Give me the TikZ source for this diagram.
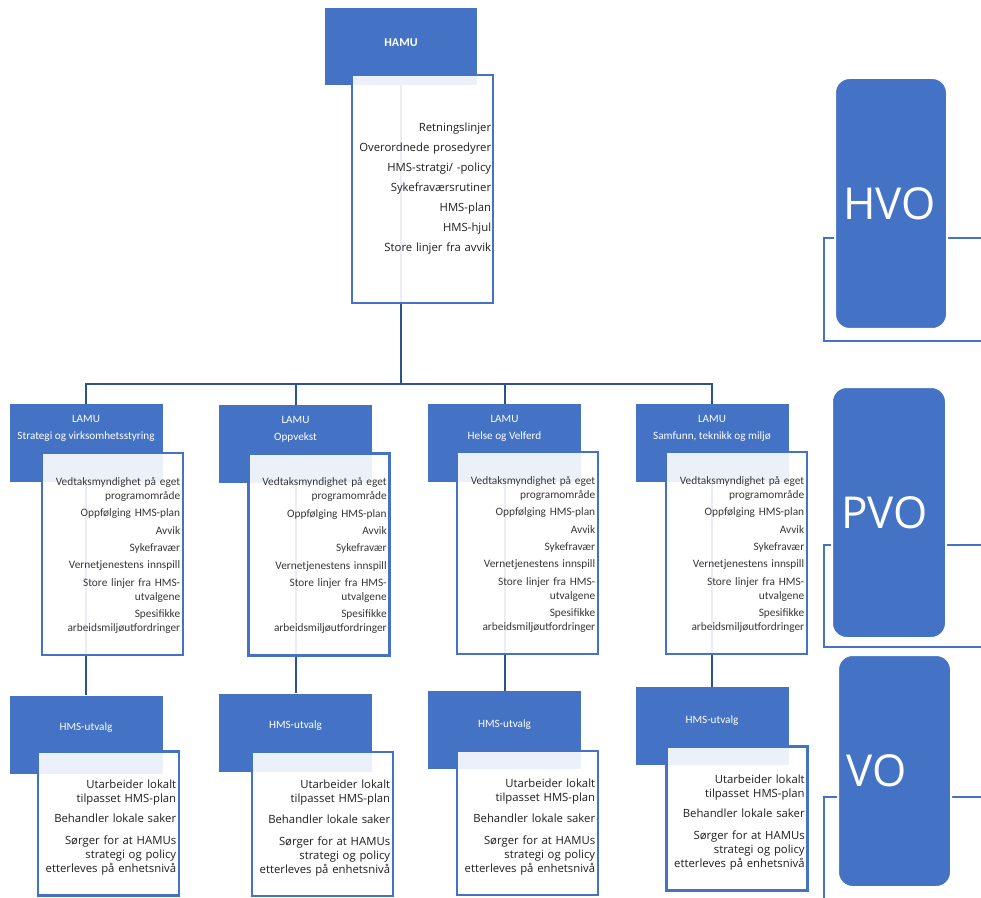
\documentclass[tikz,border=0pt]{standalone}
\usepackage{fontspec}
\setmainfont{Carlito}
\newfontfamily\opensans{Open Sans}
\usepackage{tikz}
\usetikzlibrary{calc,backgrounds}

\definecolor{hblue}{RGB}{68,114,196}
\definecolor{lineblue}{RGB}{47,82,143}
\definecolor{txtgray}{RGB}{55,55,55}
\definecolor{txtdark}{RGB}{30,30,30}

\newcommand{\tettlinjer}{\lineskiplimit=-5pt\relax}
\newcommand{\lamuliste}{\rule{0pt}{8pt}Vedtaksmyndighet på eget\\ programområde\\[2.5pt] Oppfølging HMS-plan\\[2.5pt] Avvik\\[2.5pt] Sykefravær\\[2.5pt] Vernetjenestens innspill\\[2.5pt] Store linjer fra HMS-\\ utvalgene\\[2.5pt] Spesifikke\\ arbeidsmiljøutfordringer}
\newcommand{\hmsliste}{\rule{0pt}{12.5pt}Utarbeider lokalt\\ tilpasset HMS-plan\\[5pt] Behandler lokale saker\\[6pt] Sørger for at HAMUs\\ strategi og policy\\ etterleves på enhetsnivå}

\begin{document}
\begin{tikzpicture}[x=0.75pt, y=-0.75pt,
  head/.style={fill=hblue, draw=none, minimum width=114.75pt, minimum height=58.5pt, inner sep=0pt},
  headtxt/.style={text=white, font=\fontsize{8.4}{12.75}\selectfont, align=center, inner sep=0pt},
  body/.style={draw=hblue, line width=1.6pt, fill=white, fill opacity=0.9, text opacity=1, text=txtgray,
    inner xsep=2pt, minimum width=105.75pt, text width=101.5pt, align=right},
  lamubody/.style={body, minimum height=151.5pt, font=\fontsize{8.5}{10.5}\selectfont\tettlinjer},
  hmsbody/.style={body, minimum height=108pt, text=txtdark, font=\opensans\fontsize{8.5}{10.5}\selectfont\tettlinjer},
  link/.style={draw=lineblue, line width=1.5pt},
  tierframe/.style={draw=hblue, line width=1.1pt},
  tierbox/.style={fill=hblue, draw=white, line width=1.5pt, rounded corners=11pt, minimum width=84pt,
    inner xsep=6pt, text width=72pt, align=left, text=white, font=\opensans\fontsize{33}{38}\selectfont}]
  \useasboundingbox (0,0) rectangle (981,898);
  \clip (0,0) rectangle (981,898);

  % HAMU
  \node[head, minimum width=114pt, minimum height=57.75pt] (hamu) at (401,46.5) {};
  \node[headtxt, font=\bfseries\fontsize{9}{11}\selectfont] (hamutitle) at (401,42.5) {HAMU};
  \node[body, minimum height=171pt, inner xsep=1.375pt, text width=103pt, text=txtdark,
    font=\opensans\fontsize{8.5}{15}\selectfont\tettlinjer] (hamuliste) at (422.5,189)
    {Retningslinjer\\ Overordnede prosedyrer\\ HMS-stratgi/ -policy\\ Sykefraværsrutiner\\ HMS-plan\\ HMS-hjul\\ Store linjer fra avvik};

  % LAMU
  \node[head] (lamu1) at (86,443) {};
  \node[headtxt] (lamutitle1) at (86,428.5) {LAMU\\ Strategi og virksomhetsstyring};
  \node[lamubody] (lamuliste1) at (112.5,554) {\lamuliste};

  \node[head] (lamu2) at (295.5,444) {};
  \node[headtxt] (lamutitle2) at (295.5,429.5) {LAMU\\ Oppvekst};
  \node[lamubody] (lamuliste2) at (319,554.5) {\lamuliste};

  \node[head] (lamu3) at (504.5,443) {};
  \node[headtxt] (lamutitle3) at (504.5,428.5) {LAMU\\ Helse og Velferd};
  \node[lamubody] (lamuliste3) at (527.5,553) {\lamuliste};

  \node[head] (lamu4) at (712,443) {};
  \node[headtxt] (lamutitle4) at (712,428.5) {LAMU\\ Samfunn, teknikk og miljø};
  \node[lamubody] (lamuliste4) at (736.5,553) {\lamuliste};

  % HMS-utvalg
  \node[head] (hms1) at (86,734.5) {};
  \node[headtxt] (hmstitle1) at (86,728) {HMS-utvalg};
  \node[hmsbody] (hmsliste1) at (108.5,823.5) {\hmsliste};

  \node[head] (hms2) at (295.5,732.5) {};
  \node[headtxt] (hmstitle2) at (295.5,726) {HMS-utvalg};
  \node[hmsbody] (hmsliste2) at (322.5,824) {\hmsliste};

  \node[head] (hms3) at (504.5,730) {};
  \node[headtxt] (hmstitle3) at (504.5,725) {HMS-utvalg};
  \node[hmsbody] (hmsliste3) at (527.5,823) {\hmsliste};

  \node[head] (hms4) at (712,726) {};
  \node[headtxt] (hmstitle4) at (712,721) {HMS-utvalg};
  \node[hmsbody] (hmsliste4) at (737,818.5) {\hmsliste};

  % connectors
  \coordinate (bar) at (401,384);
  \begin{scope}[on background layer]
    \draw[link] (hamu.center) -- (bar);
    \draw[link] (bar) -| (lamu1.north);
    \draw[link] (bar) -| (lamu2.north);
    \draw[link] (bar) -| (lamu3.north);
    \draw[link] (bar) -| (lamu4.north);
    \draw[link] (lamu1.center) -- (hms1.north);
    \draw[link] (lamu2.center) -- (hms2.north);
    \draw[link] (lamu3.center) -- (hms3.north);
    \draw[link] (lamu4.center) -- (hms4.north);
  \end{scope}

  % levels
  \draw[tierframe] (824,238) rectangle (995,341);
  \node[tierbox, minimum height=188.25pt] (hvo) at (891,203.5) {HVO};
  \draw[tierframe] (824,545) rectangle (995,647);
  \node[tierbox, minimum width=85.5pt, minimum height=188.25pt] (pvo) at (889,512.5) {PVO};
  \draw[tierframe] (824,797) rectangle (995,920);
  \node[tierbox, minimum width=84.75pt, minimum height=174pt] (vo) at (894.5,771) {VO};
\end{tikzpicture}
\end{document}
